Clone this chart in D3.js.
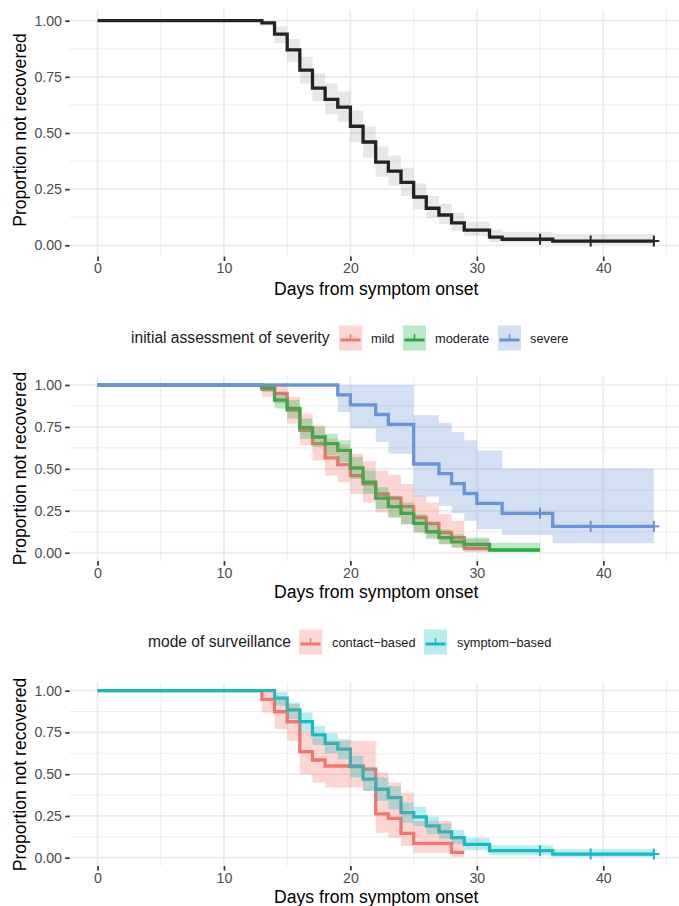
<!DOCTYPE html>
<html><head><meta charset="utf-8">
<script src="https://cdn.jsdelivr.net/npm/d3@7"></script>
<style>
body{margin:0;background:#fff}
svg{display:block}
text{font-family:"Liberation Sans",Arial,sans-serif}
</style>
</head><body>
<svg id="c" width="679" height="906"></svg>
<script>
// ---------------- DATA ----------------
const xTickValues = [0, 10, 20, 30, 40];
const yTickValues = [0, 0.25, 0.5, 0.75, 1];
const yTickLabels = ["0.00", "0.25", "0.50", "0.75", "1.00"];
const xAxisTitle = "Days from symptom onset";
const yAxisTitle = "Proportion not recovered";

// Panel 1: all patients
const overallTime  = [0, 13, 14, 15, 16, 17, 18, 19, 20, 21, 22, 23, 24, 25, 26, 27, 28, 29, 31, 32, 36, 44];
const overallSurv  = [1, 0.99, 0.94, 0.87, 0.78, 0.70, 0.65, 0.615, 0.53, 0.46, 0.37, 0.33, 0.28, 0.215, 0.165, 0.135, 0.10, 0.068, 0.036, 0.027, 0.019, 0.019];
const overallUpper = [1, 1, 0.975, 0.92, 0.84, 0.765, 0.72, 0.685, 0.60, 0.53, 0.44, 0.40, 0.345, 0.275, 0.22, 0.185, 0.145, 0.105, 0.07, 0.06, 0.05, 0.05];
const overallLower = [1, 0.975, 0.90, 0.815, 0.72, 0.64, 0.585, 0.55, 0.46, 0.39, 0.305, 0.265, 0.22, 0.16, 0.12, 0.095, 0.065, 0.04, 0.015, 0.01, 0.005, 0.005];
const overallCensorTime = [35, 39, 44];
const overallCensorSurv = [0.027, 0.019, 0.019];

// Panel 2: initial assessment of severity
const severityTitle = "initial assessment of severity";
const severityLevels = ["mild", "moderate", "severe"];
const mildTime  = [0, 13, 14, 15, 16, 17, 18, 19, 20, 21, 22, 23, 24, 25, 26, 27, 28, 29, 31];
const mildSurv  = [1, 0.975, 0.95, 0.85, 0.73, 0.65, 0.565, 0.525, 0.46, 0.41, 0.35, 0.325, 0.275, 0.21, 0.175, 0.12, 0.09, 0.025, 0.025];
const mildUpper = [1, 1, 1, 0.93, 0.83, 0.76, 0.68, 0.645, 0.59, 0.545, 0.49, 0.465, 0.41, 0.34, 0.30, 0.23, 0.19, 0.08, 0.08];
const mildLower = [1, 0.93, 0.89, 0.77, 0.64, 0.55, 0.46, 0.42, 0.35, 0.30, 0.24, 0.21, 0.17, 0.12, 0.09, 0.05, 0.03, 0.004, 0.004];
const moderateTime  = [0, 13, 14, 15, 16, 17, 18, 19, 20, 21, 22, 23, 24, 25, 26, 27, 28, 29, 31, 35];
const moderateSurv  = [1, 0.985, 0.91, 0.86, 0.745, 0.69, 0.65, 0.61, 0.505, 0.42, 0.325, 0.275, 0.235, 0.175, 0.125, 0.09, 0.065, 0.05, 0.016, 0.016];
const moderateUpper = [1, 1, 0.95, 0.91, 0.80, 0.75, 0.71, 0.67, 0.57, 0.49, 0.39, 0.34, 0.30, 0.23, 0.18, 0.14, 0.11, 0.09, 0.06, 0.06];
const moderateLower = [1, 0.96, 0.86, 0.80, 0.68, 0.63, 0.58, 0.54, 0.44, 0.35, 0.26, 0.21, 0.17, 0.12, 0.08, 0.05, 0.03, 0.02, 0.004, 0.004];
const severeTime  = [0, 19, 20, 22, 23, 25, 27, 28, 29, 30, 32, 36, 44];
const severeSurv  = [1, 0.941, 0.882, 0.824, 0.765, 0.529, 0.471, 0.412, 0.353, 0.294, 0.235, 0.157, 0.157];
const severeUpper = [1, 1, 1, 1, 1, 0.82, 0.775, 0.72, 0.67, 0.61, 0.50, 0.50, 0.50];
const severeLower = [1, 0.84, 0.74, 0.66, 0.59, 0.335, 0.28, 0.235, 0.19, 0.14, 0.105, 0.056, 0.056];
const severeCensorTime = [35, 39, 44];
const severeCensorSurv = [0.235, 0.157, 0.157];

// Panel 3: mode of surveillance
const surveillanceTitle = "mode of surveillance";
const surveillanceLevels = ["contact\u2212based", "symptom\u2212based"];
const contactTime  = [0, 13, 14, 15, 16, 17, 18, 21, 22, 23, 24, 25, 28, 29];
const contactSurv  = [1, 0.948, 0.874, 0.814, 0.635, 0.585, 0.549, 0.53, 0.262, 0.236, 0.146, 0.086, 0.032, 0.032];
const contactUpper = [1, 1, 0.96, 0.92, 0.76, 0.72, 0.70, 0.70, 0.51, 0.45, 0.39, 0.22, 0.12, 0.12];
const contactLower = [1, 0.87, 0.77, 0.70, 0.50, 0.45, 0.42, 0.40, 0.15, 0.12, 0.07, 0.03, 0.005, 0.005];
const symptomTime  = [0, 14, 15, 16, 17, 18, 19, 20, 21, 22, 23, 24, 25, 26, 27, 28, 29, 31, 36, 44];
const symptomSurv  = [1, 0.955, 0.885, 0.815, 0.735, 0.685, 0.65, 0.545, 0.47, 0.41, 0.36, 0.27, 0.245, 0.19, 0.155, 0.12, 0.08, 0.042, 0.022, 0.022];
const symptomUpper = [1, 0.99, 0.93, 0.87, 0.79, 0.745, 0.71, 0.61, 0.54, 0.48, 0.43, 0.33, 0.305, 0.245, 0.205, 0.165, 0.12, 0.075, 0.05, 0.05];
const symptomLower = [1, 0.91, 0.83, 0.76, 0.675, 0.625, 0.59, 0.48, 0.40, 0.34, 0.29, 0.21, 0.19, 0.14, 0.11, 0.08, 0.045, 0.015, 0.005, 0.005];
const symptomCensorTime = [35, 39, 44];
const symptomCensorSurv = [0.042, 0.022, 0.022];

// ---------------- DRAWING ----------------
const svg = d3.select("#c");
const x = d3.scaleLinear().domain([-2.2, 46.2]).range([69.7, 681.7]);
const xMinor = [5, 15, 25, 35, 45];
const yMinor = [0.125, 0.375, 0.625, 0.875];
const FONT_TICK = 14.2, FONT_TITLE = 17.6, FONT_LEG_T = 15.6, FONT_LEG = 12.8;
const LINE_W = 3.3;

function zip(t, s, u, l) { return t.map((d, i) => ({t: d, s: s[i], u: u ? u[i] : null, l: l ? l[i] : null})); }

function panel(cfg) {
  const y = d3.scaleLinear().domain([0, 1]).range([cfg.y0, cfg.y1]);
  const top = y(1.05), bot = y(-0.05);
  const [left, right] = x.range();
  const g = svg.append("g");
  // grid
  g.selectAll(null).data(yMinor).join("line")
    .attr("x1", left).attr("x2", right).attr("y1", d => y(d)).attr("y2", d => y(d))
    .attr("stroke", "#ebebeb").attr("stroke-width", 0.9);
  g.selectAll(null).data(xMinor).join("line")
    .attr("y1", top).attr("y2", bot).attr("x1", d => x(d)).attr("x2", d => x(d))
    .attr("stroke", "#ebebeb").attr("stroke-width", 0.9);
  g.selectAll(null).data(yTickValues).join("line")
    .attr("x1", left).attr("x2", right).attr("y1", d => y(d)).attr("y2", d => y(d))
    .attr("stroke", "#ebebeb").attr("stroke-width", 1.7);
  g.selectAll(null).data(xTickValues).join("line")
    .attr("y1", top).attr("y2", bot).attr("x1", d => x(d)).attr("x2", d => x(d))
    .attr("stroke", "#ebebeb").attr("stroke-width", 1.7);

  // axes
  const ax = g.append("g").attr("transform", `translate(0,${bot})`)
    .call(d3.axisBottom(x).tickValues(xTickValues).tickSize(4.5).tickPadding(2.2).tickFormat(d3.format("d")));
  ax.select(".domain").remove();
  ax.selectAll(".tick line").attr("stroke", "#333").attr("stroke-width", 1.7);
  ax.selectAll(".tick text").attr("fill", "#4d4d4d").style("font-size", FONT_TICK + "px").style("font-family", '"Liberation Sans",Arial,sans-serif');
  const ay = g.append("g").attr("transform", `translate(${left},0)`)
    .call(d3.axisLeft(y).tickValues(yTickValues).tickSize(4.5).tickPadding(3.2).tickFormat((d, i) => yTickLabels[i]));
  ay.select(".domain").remove();
  ay.selectAll(".tick line").attr("stroke", "#333").attr("stroke-width", 1.7);
  ay.selectAll(".tick text").attr("fill", "#4d4d4d").style("font-size", FONT_TICK + "px").style("font-family", '"Liberation Sans",Arial,sans-serif');

  g.append("text").attr("x", (x(0) + x(44)) / 2 + 0.5).attr("y", cfg.xTitleY)
    .attr("text-anchor", "middle").style("font-size", FONT_TITLE + "px").attr("fill", "#000").text(xAxisTitle);
  g.append("text").attr("transform", `translate(26,${cfg.yTitleC}) rotate(-90)`)
    .attr("text-anchor", "middle").style("font-size", FONT_TITLE + "px").attr("fill", "#000").text(yAxisTitle);

  const line = d3.line().curve(d3.curveStepAfter).x(d => x(d.t)).y(d => y(d.s));
  const area = d3.area().curve(d3.curveStepAfter).x(d => x(d.t)).y0(d => y(d.l)).y1(d => y(d.u));
  const series = cfg.series;
  // lines first
  series.forEach(s => {
    g.append("path").datum(s.data).attr("d", line).attr("fill", "none")
      .attr("stroke", s.color).attr("stroke-width", LINE_W).attr("stroke-linejoin", "miter");
  });
  // ribbons on top
  series.forEach(s => {
    g.append("path").datum(s.data).attr("d", area).attr("fill", s.fill).attr("fill-opacity", s.alpha).attr("stroke", "none");
  });
  // censor marks
  series.forEach(s => {
    if (!s.censor) return;
    const cg = g.append("g");
    s.censor.forEach(c => {
      const cx = x(c.t), cy = y(c.s);
      cg.append("line").attr("x1", cx - 5.5).attr("x2", cx + 5.5).attr("y1", cy).attr("y2", cy).attr("stroke", s.color).attr("stroke-width", 2);
      cg.append("line").attr("x1", cx).attr("x2", cx).attr("y1", cy - 5.5).attr("y2", cy + 5.5).attr("stroke", s.color).attr("stroke-width", 2);
    });
  });

  // legend
  if (cfg.legend) {
    const L = cfg.legend;
    const lg = g.append("g");
    lg.append("text").attr("x", L.titleX).attr("y", L.cy + 5.4).style("font-size", FONT_LEG_T + "px").attr("fill", "#1a1a1a").text(L.title);
    L.items.forEach((it, i) => {
      const s = series[i];
      const kx = it.kx, ky = L.cy - 12.5;
      lg.append("rect").attr("x", kx).attr("y", ky).attr("width", 23).attr("height", 25).attr("fill", s.fill).attr("fill-opacity", s.alpha);
      lg.append("line").attr("x1", kx + 1.5).attr("x2", kx + 21.5).attr("y1", L.cy + 2).attr("y2", L.cy + 2).attr("stroke", s.color).attr("stroke-width", 3);
      lg.append("line").attr("x1", kx + 11.5).attr("x2", kx + 11.5).attr("y1", L.cy - 4).attr("y2", L.cy + 3).attr("stroke", s.color).attr("stroke-width", 1.5);
      lg.append("text").attr("x", it.lx).attr("y", L.cy + 4.6).style("font-size", FONT_LEG + "px").attr("fill", "#1a1a1a").text(it.label);
    });
  }
}

panel({
  y0: 245.3, y1: 20.7, xTitleY: 295, yTitleC: 130,
  series: [{data: zip(overallTime, overallSurv, overallUpper, overallLower), color: "#262626", fill: "#000", alpha: 0.09,
            censor: overallCensorTime.map((t, i) => ({t, s: overallCensorSurv[i]}))}]
});

panel({
  y0: 552.7, y1: 385, xTitleY: 598, yTitleC: 468.5,
  series: [
    {data: zip(mildTime, mildSurv, mildUpper, mildLower), color: "#F0766E", fill: "#F4776E", alpha: 0.3},
    {data: zip(moderateTime, moderateSurv, moderateUpper, moderateLower), color: "#22AE45", fill: "#1FB345", alpha: 0.3},
    {data: zip(severeTime, severeSurv, severeUpper, severeLower), color: "#6A93D6", fill: "#6E96D6", alpha: 0.3,
     censor: severeCensorTime.map((t, i) => ({t, s: severeCensorSurv[i]}))}
  ],
  legend: {title: severityTitle, titleX: 131, cy: 338,
    items: [{kx: 339, lx: 371, label: severityLevels[0]}, {kx: 403, lx: 435, label: severityLevels[1]}, {kx: 498, lx: 530, label: severityLevels[2]}]}
});

panel({
  y0: 857.7, y1: 690.7, xTitleY: 903, yTitleC: 774.5,
  series: [
    {data: zip(contactTime, contactSurv, contactUpper, contactLower), color: "#F0766E", fill: "#F4776E", alpha: 0.3},
    {data: zip(symptomTime, symptomSurv, symptomUpper, symptomLower), color: "#14BCC2", fill: "#14BFC4", alpha: 0.3,
     censor: symptomCensorTime.map((t, i) => ({t, s: symptomCensorSurv[i]}))}
  ],
  legend: {title: surveillanceTitle, titleX: 148, cy: 642,
    items: [{kx: 299, lx: 332, label: surveillanceLevels[0]}, {kx: 424, lx: 457, label: surveillanceLevels[1]}]}
});
</script>
</body></html>
